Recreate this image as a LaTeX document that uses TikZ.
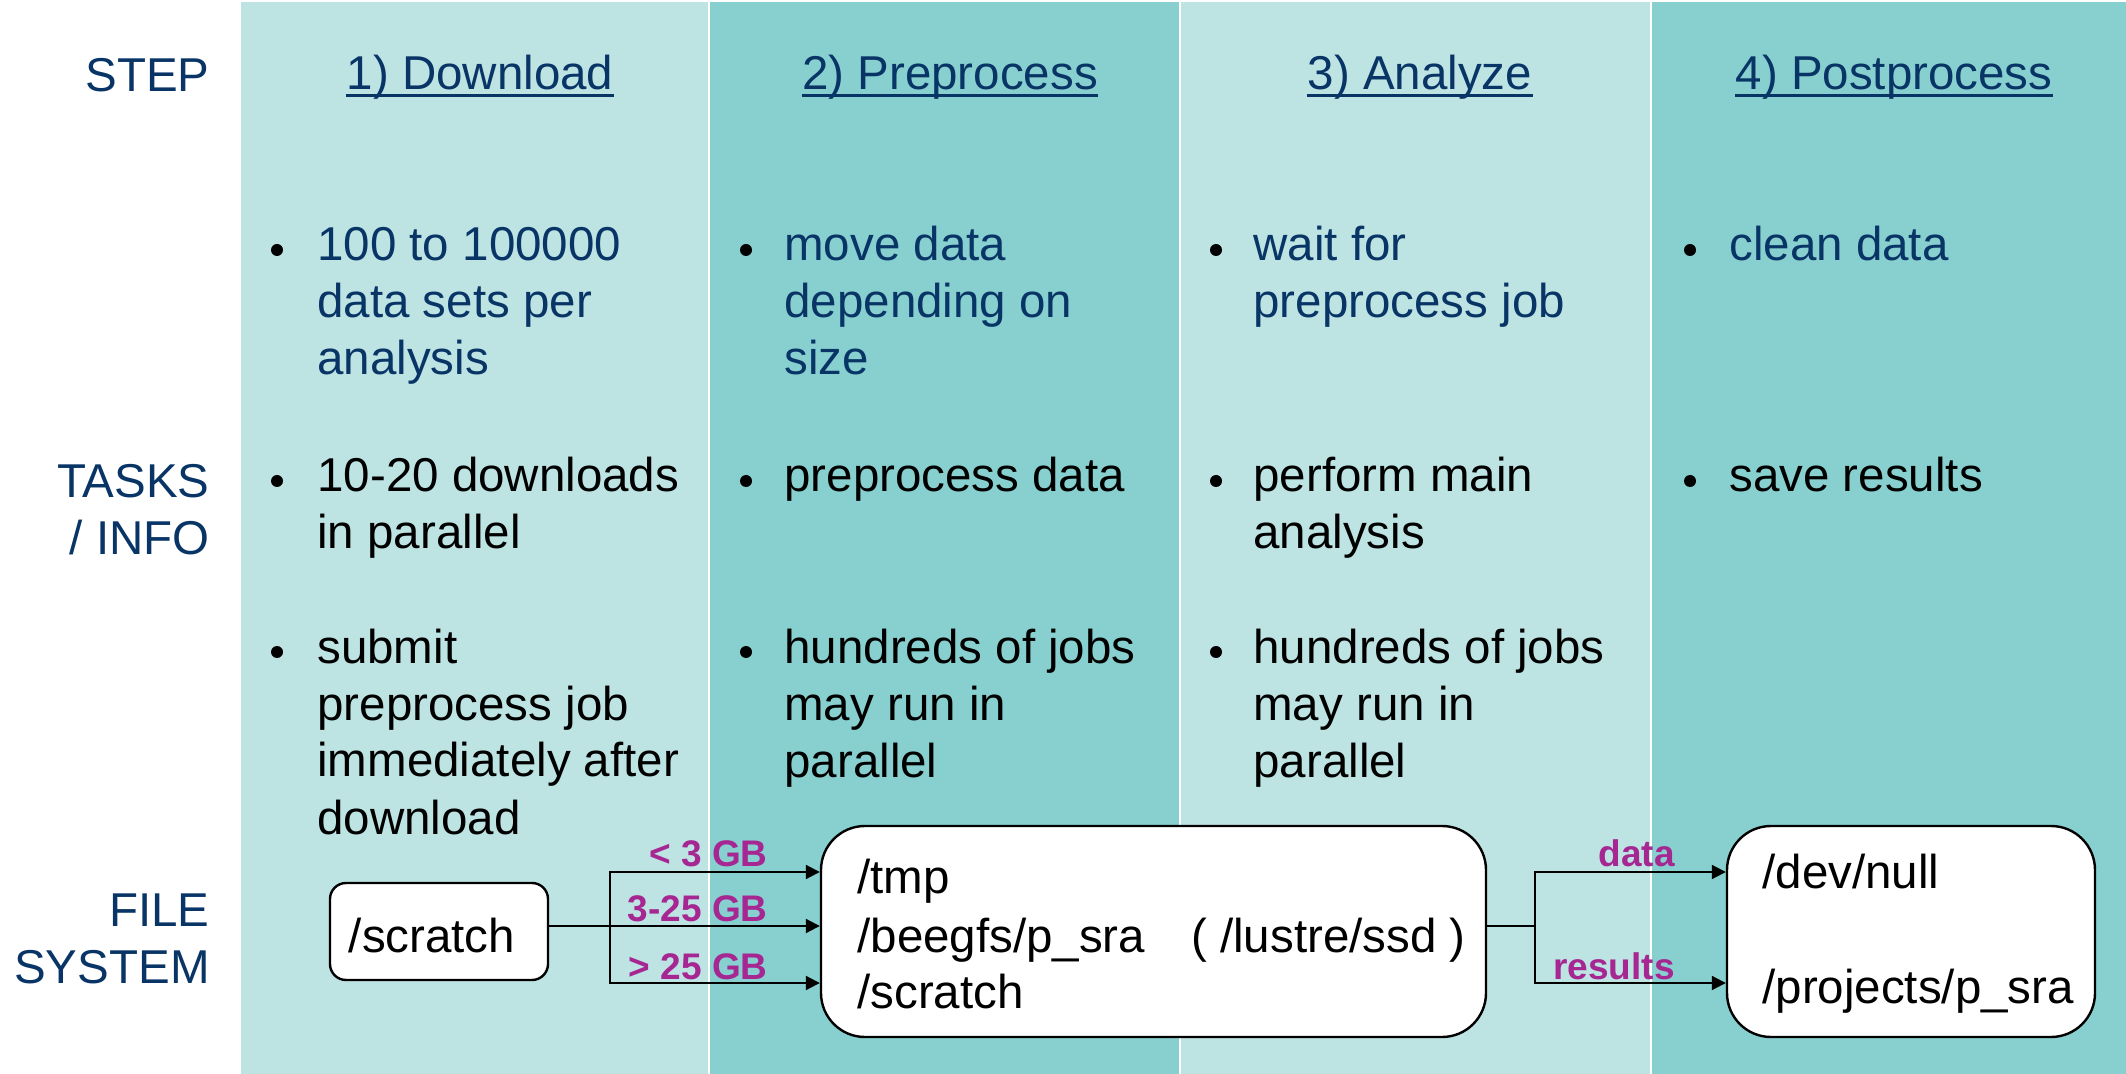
\documentclass[tikz,border=0pt]{standalone}
\usepackage{fontspec}
\setmainfont{Liberation Sans}
\usetikzlibrary{arrows.meta}
\definecolor{tealA}{RGB}{189,227,227}
\definecolor{tealB}{RGB}{136,208,207}
\definecolor{navy}{RGB}{8,52,102}
\definecolor{sizelbl}{RGB}{166,38,146}
\begin{document}
\begin{tikzpicture}[x=0.5pt,y=-0.5pt,
  txt/.style={font=\fontsize{23.75pt}{28.5pt}\selectfont, inner sep=0pt, align=left},
  rowlbl/.style={txt, navy, align=right, anchor=base east},
  hdr/.style={txt, navy, anchor=base},
  item/.style={txt, anchor=base west},
  dot/.style={fill=black, draw=none, circle, inner sep=0pt, minimum size=6pt},
  fsbox/.style={draw=black, line width=1.2pt, fill=white, rounded corners=22pt, inner sep=0pt},
  lbl/.style={font=\fontsize{18.5pt}{22pt}\selectfont\bfseries, text=sizelbl, inner sep=0pt, anchor=base east},
  arr/.style={line width=1pt, -{Triangle[length=7pt,width=7pt]}},
  plain/.style={line width=1pt}]
\useasboundingbox (0,0) rectangle (2126,1074);

% column backgrounds
\fill[tealA] (241,2) rectangle (709,1074);
\fill[tealB] (709,2) rectangle (1180,1074);
\fill[tealA] (1180,2) rectangle (1651,1074);
\fill[tealB] (1651,2) rectangle (2126,1074);
\foreach \sx in {709,1180,1651}
  \draw[white, line width=1pt] (\sx,0) -- (\sx,1074);

% row labels (multi-line nodes are placed by the baseline of their last line)
\node[rowlbl] (lstep) at (210,92) {STEP};
\node[rowlbl] (ltask) at (210,555) {TASKS\\/ INFO};
\node[rowlbl] (lfs) at (210,983) {FILE\\SYSTEM};

% step headers
\node[hdr] (h1) at (480,90) {1) Download};
\node[hdr] (h2) at (950,90) {2) Preprocess};
\node[hdr] (h3) at (1420,90) {3) Analyze};
\node[hdr] (h4) at (1894,90) {4) Postprocess};
\foreach \h in {h1,h2,h3,h4}
  \draw[navy, line width=1.5pt] ([yshift=-2.8pt]\h.base west) -- ([yshift=-2.8pt]\h.base east);

% bullet marks, level with the first line of each item
\foreach \bx/\by in {277/261, 277/492, 277/663,
                     746/261, 746/492, 746/663,
                     1216/261, 1216/492, 1216/663,
                     1690/261, 1690/492}
  \node[dot] at (\bx,\by-11) {};

% items (anchored at the baseline of their last line, 57 units per line)
\node[item, navy] (a1) at (317,375) {100 to 100000\\data sets per\\analysis};
\node[item] (a2) at (317,549) {10-20 downloads\\in parallel};
\node[item] (a3) at (317,834) {submit\\preprocess job\\immediately after\\download};

\node[item, navy] (b1) at (784,375) {move data\\depending on\\size};
\node[item] (b2) at (784,492) {preprocess data};
\node[item] (b3) at (784,777) {hundreds of jobs\\may run in\\parallel};

\node[item, navy] (c1) at (1253,318) {wait for\\preprocess job};
\node[item] (c2) at (1253,549) {perform main\\analysis};
\node[item] (c3) at (1253,777) {hundreds of jobs\\may run in\\parallel};

\node[item, navy] (d1) at (1729,261) {clean data};
\node[item] (d2) at (1729,492) {save results};

% file system boxes
\node[fsbox, rounded corners=8pt, minimum width=109pt, minimum height=48.5pt] (scr) at (439,931.5) {};
\node[txt, anchor=base] (scrt) at (432,952) {/scratch};

\node[fsbox, minimum width=332.5pt, minimum height=105.5pt] (mid) at (1153.5,931.5) {};
\node[item] (m1) at (857,893) {/tmp};
\node[item] (m2) at (857,952) {/beegfs/p\_sra};
\node[item] (m3) at (857,1008) {/scratch};
\node[txt, anchor=base east] (m4) at (1466,952) {( /lustre/ssd )};

\node[fsbox, minimum width=184pt, minimum height=105.5pt] (dst) at (1911,931.5) {};
\node[item] (n1) at (1762,888) {/dev/null};
\node[item] (n2) at (1762,1003) {/projects/p\_sra};

% routing by size
\coordinate (jL) at (610,926);
\coordinate (yA) at (0,872);
\coordinate (yC) at (0,983);
\draw[plain] (scr.east |- jL) -- (jL);
\draw[arr] (jL) |- (mid.west |- yA);
\draw[arr] (jL) -- (mid.west |- jL);
\draw[arr] (jL) |- (mid.west |- yC);
\node[lbl] (s1) at (768,866) {< 3 GB};
\node[lbl] (s2) at (768,921) {3-25 GB};
\node[lbl] (s3) at (768,979) {> 25 GB};

% routing of results
\coordinate (jR) at (1535,926);
\draw[plain] (mid.east |- jR) -- (jR);
\draw[arr] (jR) |- (dst.west |- yA);
\draw[arr] (jR) |- (dst.west |- yC);
\node[lbl] (r1) at (1675,866) {data};
\node[lbl] (r2) at (1675,979) {results};
\end{tikzpicture}
\end{document}
